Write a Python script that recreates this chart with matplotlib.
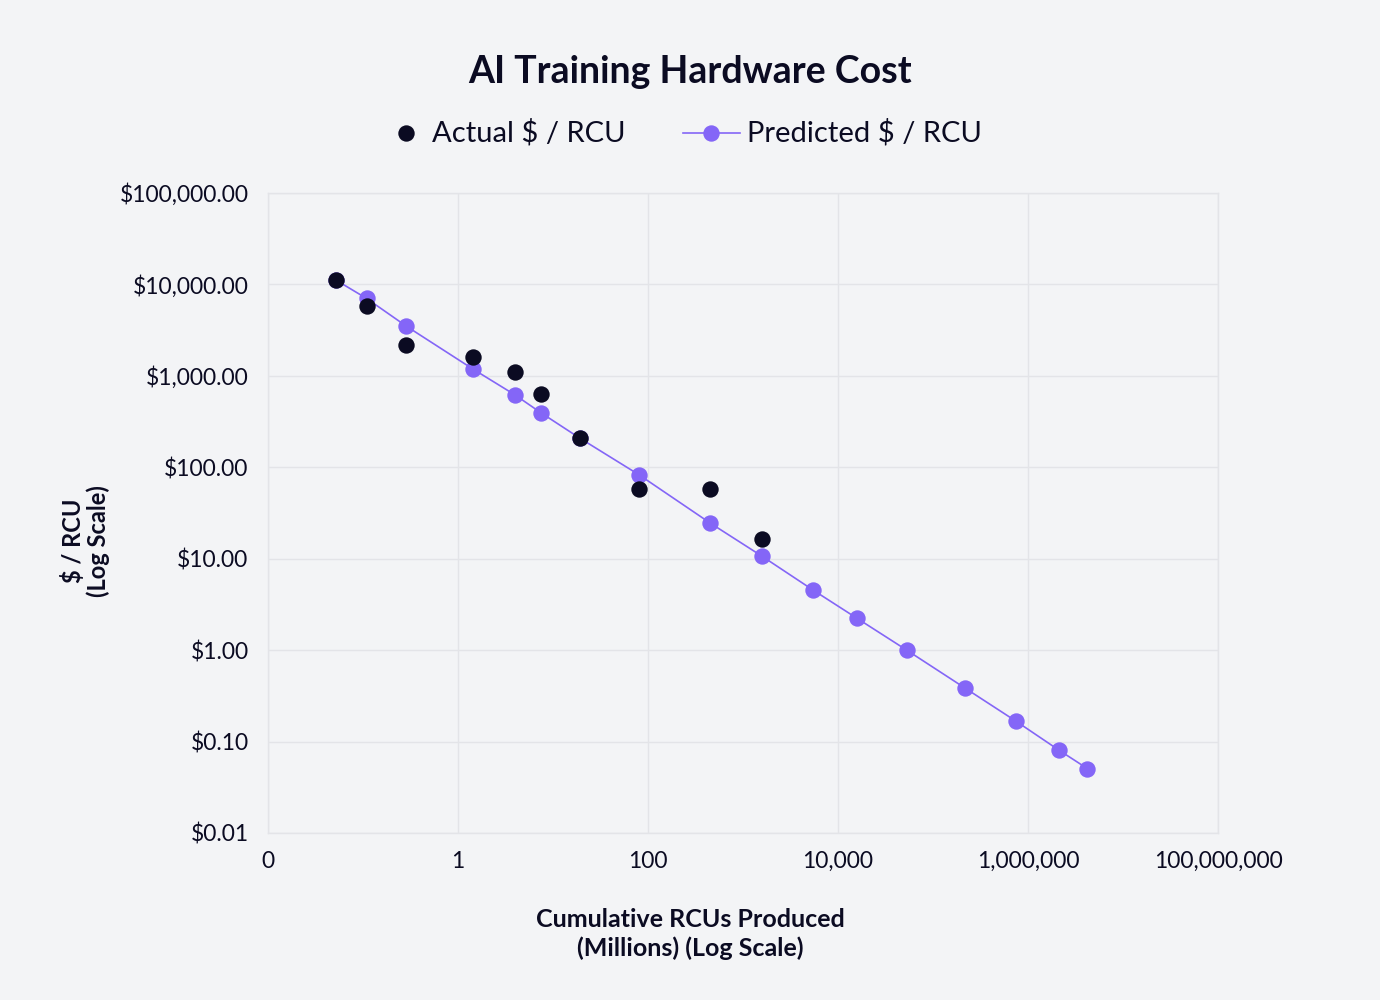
import matplotlib
matplotlib.use("Agg")
import matplotlib.pyplot as plt
from matplotlib.lines import Line2D

plt.rcParams["font.family"] = ["Lato", "DejaVu Sans"]

# cumulative RCUs produced (millions) and $ per RCU
actual_x = [0.052, 0.109, 0.284, 1.43, 3.98, 7.4, 19.2, 80.4, 450, 1596]
actual_y = [11140, 5800, 2170, 1596, 1111, 634, 208, 58.2, 58.2, 16.4]

pred_x = [0.052, 0.109, 0.284, 1.43, 3.98, 7.4, 19.2, 80.4, 450, 1596,
          5500, 15960, 52900, 217000, 748000, 2.1e6, 4.21e6]
pred_y = [11140, 7030, 3510, 1190, 619, 397, 208, 82.8, 24.6, 10.6,
          4.52, 2.22, 1.0, 0.385, 0.167, 0.081, 0.0507]

x_ticks = [0.01, 1, 100, 1e4, 1e6, 1e8]
x_tick_labels = ["0", "1", "100", "10,000", "1,000,000", "100,000,000"]
y_ticks = [0.01, 0.1, 1, 10, 100, 1000, 10000, 100000]
y_tick_labels = ["$0.01", "$0.10", "$1.00", "$10.00", "$100.00",
                 "$1,000.00", "$10,000.00", "$100,000.00"]

BG = "#F3F4F6"
INK = "#0B0B22"
PURPLE = "#8466F7"
GRID = "#E3E4E8"
W, H = 1380, 1000
MS = 11.8

fig = plt.figure(figsize=(13.8, 10), dpi=100, facecolor=BG)
ax = fig.add_axes([268 / W, 1 - 833 / H, 950 / W, 640 / H], facecolor=BG)

ax.plot(pred_x, pred_y, color=PURPLE, linewidth=1.2, marker="o",
        markersize=MS, markeredgewidth=0, zorder=3)
ax.plot(actual_x, actual_y, linestyle="none", color=INK, marker="o",
        markersize=MS, markeredgewidth=0, zorder=4)

ax.set_xscale("log")
ax.set_yscale("log")
ax.set_xlim(0.01, 1e8)
ax.set_ylim(0.01, 1e5)
ax.set_xticks(x_ticks)
ax.set_xticklabels(x_tick_labels)
ax.set_yticks(y_ticks)
ax.set_yticklabels(y_tick_labels)
ax.minorticks_off()
ax.tick_params(length=0, labelsize=16.5, colors=INK)
ax.tick_params(axis="x", pad=13)
ax.tick_params(axis="y", pad=14)
ax.grid(True, color=GRID, linewidth=1.0)
ax.set_axisbelow(True)
for spine in ax.spines.values():
    spine.set_color(GRID)
    spine.set_linewidth(1.0)

fig.text(0.5, 0.928, "AI Training Hardware Cost", ha="center", va="center",
         fontsize=27, fontweight="bold", color=INK)

# legend, laid out by hand so the two handles can differ in width
leg_y = 1 - 133 / H
fig.add_artist(Line2D([406 / W], [leg_y], linestyle="none", marker="o", color=INK,
                      markersize=MS, markeredgewidth=0))
fig.text(432 / W, leg_y, "Actual $ / RCU", ha="left", va="center",
         fontsize=21, color=INK)
fig.add_artist(Line2D([683 / W, 740 / W], [leg_y, leg_y], color=PURPLE, linewidth=1.2))
fig.add_artist(Line2D([711 / W], [leg_y], linestyle="none", marker="o", color=PURPLE,
                      markersize=MS, markeredgewidth=0))
fig.text(747 / W, leg_y, "Predicted $ / RCU", ha="left", va="center",
         fontsize=21, color=INK)

fig.text(0.5, 0.066, "Cumulative RCUs Produced\n(Millions) (Log Scale)",
         ha="center", va="center", fontsize=18, fontweight="bold", color=INK,
         linespacing=1.25)
fig.text(0.062, 0.459, "$ / RCU\n(Log Scale)", ha="center", va="center",
         rotation=90, fontsize=17, fontweight="bold", color=INK, linespacing=1.1)

fig.savefig("out.png", dpi=100, facecolor=BG)
